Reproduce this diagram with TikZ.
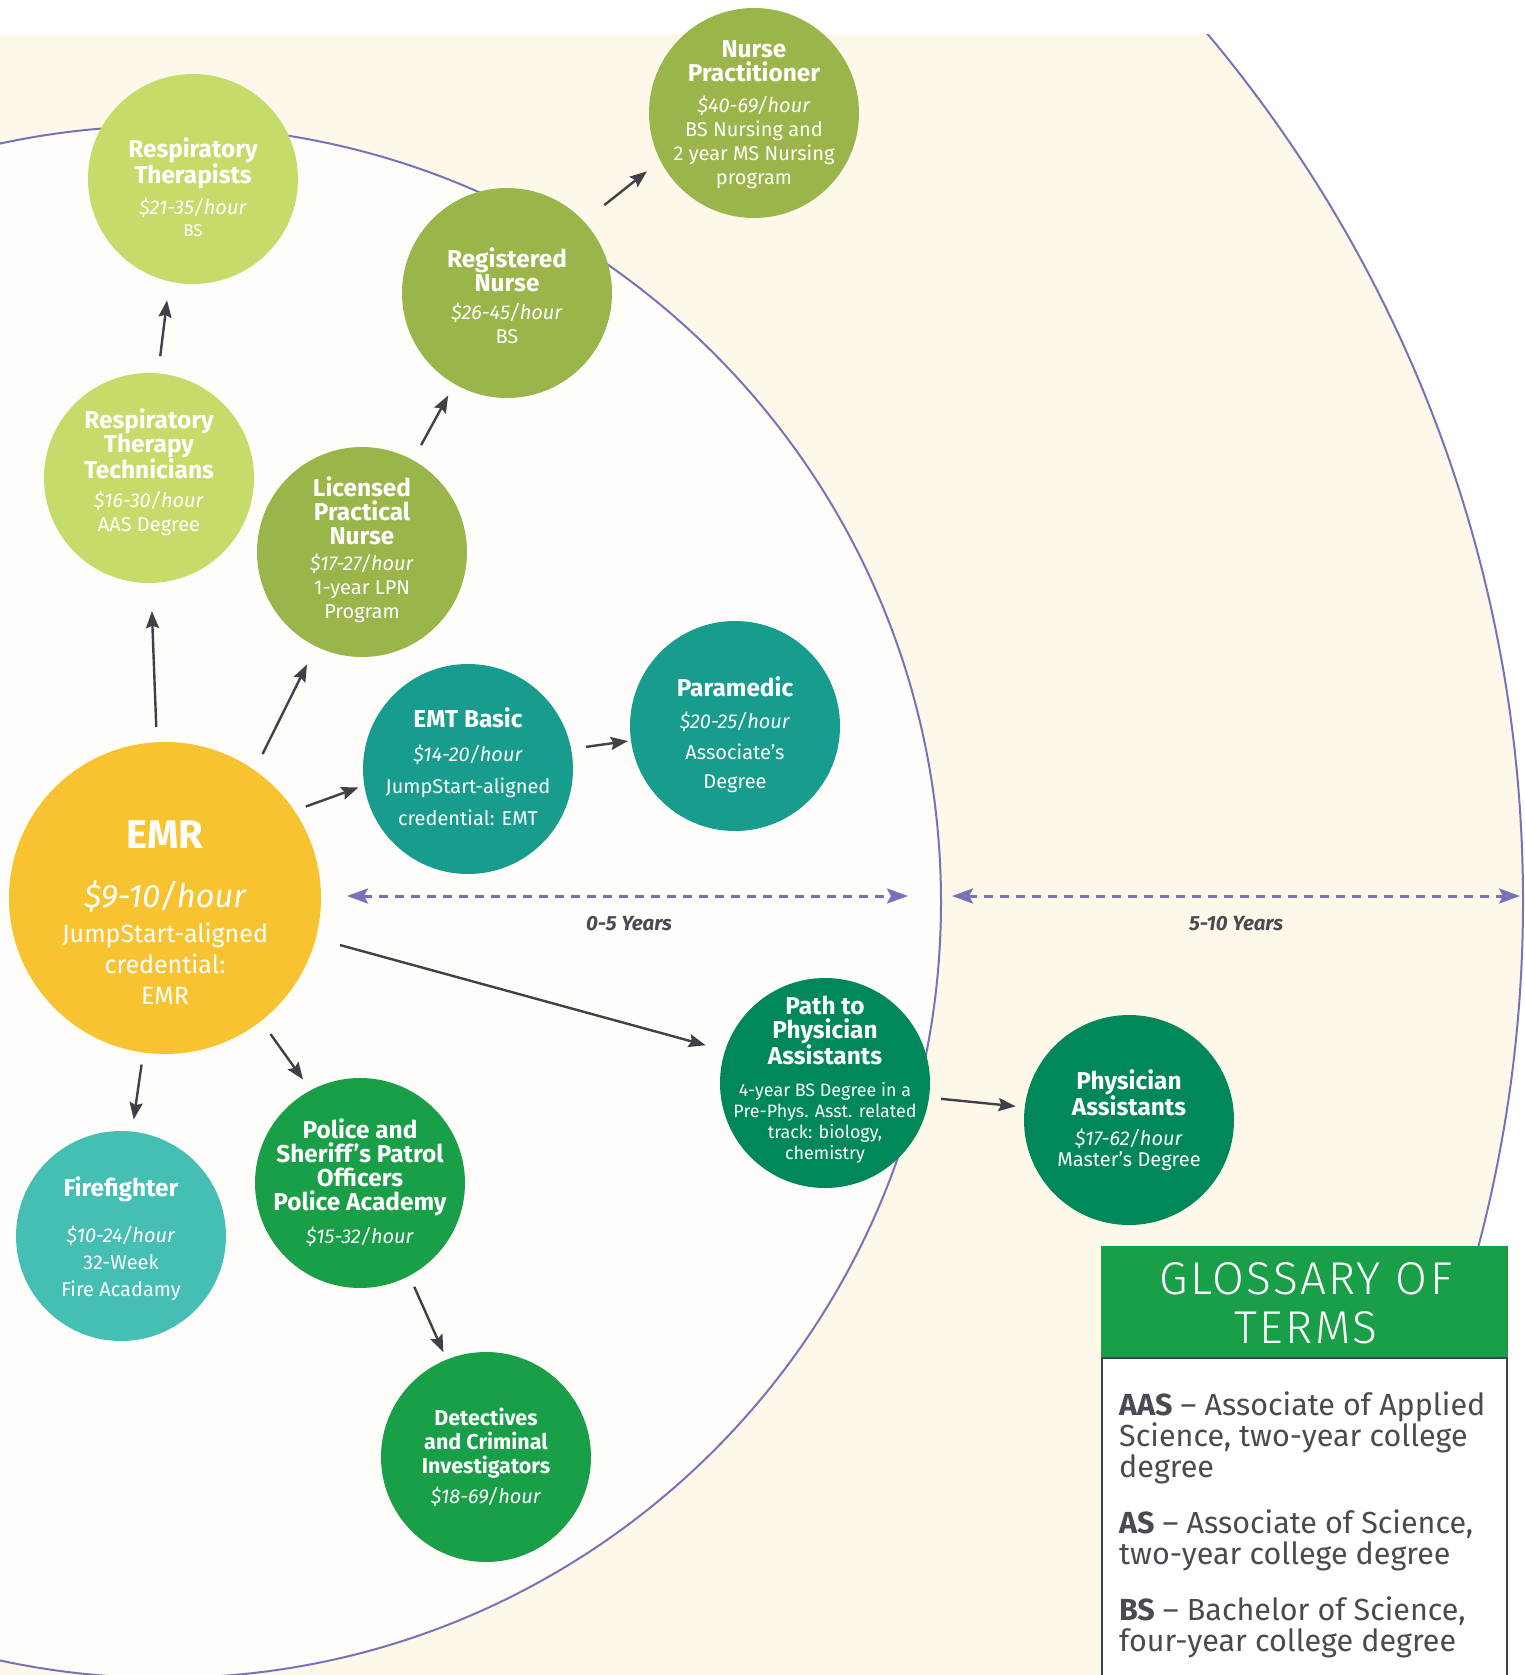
\documentclass[tikz,border=0pt]{standalone}
\usepackage{fontspec}
\setmainfont{Fira Sans}
\newfontfamily\lightfont{Fira Sans Light}[LetterSpace=5]
\usetikzlibrary{arrows.meta}
\definecolor{cream}{RGB}{253,248,233}
\definecolor{paper}{RGB}{254,253,249}
\definecolor{ring}{RGB}{122,114,184}
\definecolor{arrowgray}{RGB}{64,64,72}
\definecolor{limegreen}{RGB}{197,220,107}
\definecolor{olivegreen}{RGB}{154,181,74}
\definecolor{emtteal}{RGB}{23,156,141}
\definecolor{emryellow}{RGB}{247,195,49}
\definecolor{pagreen}{RGB}{0,135,90}
\definecolor{fireteal}{RGB}{69,191,180}
\definecolor{policegreen}{RGB}{24,159,72}
\definecolor{glosstext}{RGB}{74,74,82}
\newcommand{\jobtitle}[2][24.4]{{\fontsize{#1}{24}\selectfont\bfseries #2}}

\begin{document}
\begin{tikzpicture}[x=1pt,y=-1pt,
	bubble/.style={circle,minimum size=210pt,inner sep=0pt},
	bigbubble/.style={circle,minimum size=312pt,inner sep=0pt},
	txt/.style={text=white,align=center,inner sep=0pt,font=\fontsize{20}{24}\selectfont},
	careerarrow/.style={draw=arrowgray,line width=2.4pt,-{Stealth[length=17pt,width=13pt,inset=2.5pt]}},
	yeararrow/.style={draw=ring,line width=3pt,dash pattern=on 9pt off 7pt,{Stealth[length=21pt,width=15pt,inset=4pt]}-{Stealth[length=21pt,width=15pt,inset=4pt]}},
	yearlabel/.style={text=glosstext,font=\fontsize{20.5}{23}\selectfont\bfseries\itshape,inner sep=0pt}]
		\useasboundingbox (0,0) rectangle (1525,1675);
		%Rings
		\fill[white] (0,0) rectangle (1525,1675);
		\begin{scope}
			\clip (0,35) rectangle (1525,1675);
			\filldraw[fill=cream,draw=ring,line width=2pt] (174,901) circle (1349);
		\end{scope}
		\filldraw[fill=paper,draw=ring,line width=2pt] (165,902) circle (776);
		%Bubbles
		\node[bubble,fill=limegreen] (rt) at (193,179) {};
		\node[bubble,fill=limegreen] (rtt) at (149,478) {};
		\node[bubble,fill=olivegreen] (rn) at (507,293) {};
		\node[bubble,fill=olivegreen] (np) at (754,113) {};
		\node[bubble,fill=olivegreen] (lpn) at (362,552) {};
		\node[bubble,fill=emtteal] (emt) at (468,769) {};
		\node[bubble,fill=emtteal] (para) at (735,726) {};
		\node[bigbubble,fill=emryellow] (emr) at (165,898) {};
		\node[bubble,fill=pagreen] (path) at (825,1083) {};
		\node[bubble,fill=pagreen] (pa) at (1129,1120) {};
		\node[bubble,fill=fireteal] (ff) at (121,1236) {};
		\node[bubble,fill=policegreen] (pol) at (360,1183) {};
		\node[bubble,fill=policegreen] (det) at (486,1457) {};
		%Labels
		\node[txt,yshift=-8pt] (rt-text) at (rt) {\jobtitle{Respiratory}\\ \jobtitle{Therapists}\\[7pt] \textit{\$21-35/hour}\\[-2pt] {\fontsize{17}{20}\selectfont BS}};
		\node[txt,yshift=6pt] (rtt-text) at (rtt) {\jobtitle{Respiratory}\\ \jobtitle{Therapy}\\ \jobtitle{Technicians}\\[5pt] \textit{\$16-30/hour}\\ AAS Degree};
		\node[txt,yshift=-3pt] (rn-text) at (rn) {\jobtitle{Registered}\\ \jobtitle{Nurse}\\[4pt] \textit{\$26-45/hour}\\ BS};
		\node[txt,yshift=-2pt] (np-text) at (np) {\jobtitle{Nurse}\\ \jobtitle{Practitioner}\\[7pt] \textit{\$40-69/hour}\\ BS Nursing and\\ 2 year MS Nursing\\ program};
		\node[txt,yshift=2pt] (lpn-text) at (lpn) {\jobtitle{Licensed}\\ \jobtitle{Practical}\\ \jobtitle{Nurse}\\[2pt] \textit{\$17-27/hour}\\ 1-year LPN\\ Program};
		\node[txt,yshift=2pt] (emt-text) at (emt) {\jobtitle{EMT Basic}\\[10pt] \textit{\$14-20/hour}\\[8pt] JumpStart-aligned\\[8pt] credential: EMT};
		\node[txt,yshift=-9pt] (para-text) at (para) {\jobtitle{Paramedic}\\[8pt] \textit{\$20-25/hour}\\[7pt] Associate’s\\[5pt] Degree};
		\node[txt,yshift=-15pt,font=\fontsize{25}{31}\selectfont] (emr-text) at (emr) {{\fontsize{40}{40}\selectfont\bfseries EMR}\\[28pt] {\fontsize{32.5}{31}\selectfont\itshape \$9-10/hour}\\[4pt] JumpStart-aligned\\ credential:\\ EMR};
		\node[txt,yshift=3pt,font=\fontsize{17.9}{24}\selectfont] (path-text) at (path) {\jobtitle{Path to}\\ \jobtitle{Physician}\\ \jobtitle{Assistants}\\[8pt] 4-year BS Degree in a\\[-3pt] Pre-Phys. Asst. related\\[-3pt] track: biology,\\[-3pt] chemistry};
		\node[txt] (pa-text) at (pa) {\jobtitle{Physician}\\ \jobtitle{Assistants}\\[6pt] \textit{\$17-62/hour}\\[-3pt] Master’s Degree};
		\node[txt,yshift=-3pt] (ff-text) at (ff) {\jobtitle{Firefighter}\\[22pt] \textit{\$10-24/hour}\\[3pt] 32-Week\\[3pt] Fire Acadamy};
		\node[txt] (pol-text) at (pol) {\jobtitle{Police and}\\ \jobtitle{Sheriff’s Patrol}\\ \jobtitle{Officers}\\ \jobtitle{Police Academy}\\[9pt] \textit{\$15-32/hour}};
		\node[txt] (det-text) at (det) {\jobtitle[21.5]{Detectives}\\ \jobtitle[21.5]{and Criminal}\\ \jobtitle[21.5]{Investigators}\\[6pt] \textit{\$18-69/hour}};
		%Career arrows
		\draw[careerarrow,shorten <=17pt,shorten >=19pt] (rtt.85) -- (rt.257);
		\draw[careerarrow,shorten <=15pt,shorten >=28pt] (emr.93) -- (rtt.271);
		\draw[careerarrow,shorten <=18pt,shorten >=20pt] (emr.55) -- (lpn.244);
		\draw[careerarrow,shorten <=17pt,shorten >=13pt] (lpn.61) -- (rn.240);
		\draw[careerarrow,shorten <=26pt,shorten >=17pt] (rn.43) -- (np.207);
		\draw[careerarrow,shorten <=12pt,shorten >=6pt] (emr.34) -- (emt.189);
		\draw[careerarrow,shorten <=15pt,shorten >=3pt] (emt.11) -- (para.188);
		\draw[careerarrow,shorten <=25pt,shorten >=20pt] (emr.-15) -- (path.162);
		\draw[careerarrow,shorten <=12pt,shorten >=9pt] (path.-8) -- (pa.173);
		\draw[careerarrow,shorten <=12pt,shorten >=12pt] (emr.262) -- (ff.84);
		\draw[careerarrow,shorten <=16pt,shorten >=13pt] (emr.-52) -- (pol.118);
		\draw[careerarrow,shorten <=12pt,shorten >=8pt] (pol.-62) -- (det.112);
		%Years
		\coordinate (early-l) at (347,896);
		\coordinate (early-r) at (908,896);
		\coordinate (late-l) at (952,896);
		\coordinate (late-r) at (1520,896);
		\draw[yeararrow] (early-l) -- (early-r);
		\draw[yeararrow] (late-l) -- (late-r);
		\node[yearlabel] (early-lbl) at (629,924) {0-5 Years};
		\node[yearlabel] (late-lbl) at (1236,924) {5-10 Years};
		%Glossary
		\fill[policegreen] (1101,1246) rectangle (1508,1358);
		\filldraw[fill=white,draw=arrowgray,line width=1.3pt] (1102,1358) rectangle (1507,1700);
		\node[text=white,align=center,inner sep=0pt,font=\lightfont\fontsize{46}{48.3}\selectfont] (gloss-title) at (1306,1303.3) {GLOSSARY OF\\TERMS};
		\node[anchor=north west,text=glosstext,align=left,inner sep=0pt,font=\fontsize{30.5}{31}\selectfont] (gloss-body) at (1119,1391) {\textbf{AAS} – Associate of Applied\\ Science, two-year college\\ degree\\[25pt] \textbf{AS} – Associate of Science,\\ two-year college degree\\[25pt] \textbf{BS} – Bachelor of Science,\\ four-year college degree};
	\end{tikzpicture}
\end{document}
